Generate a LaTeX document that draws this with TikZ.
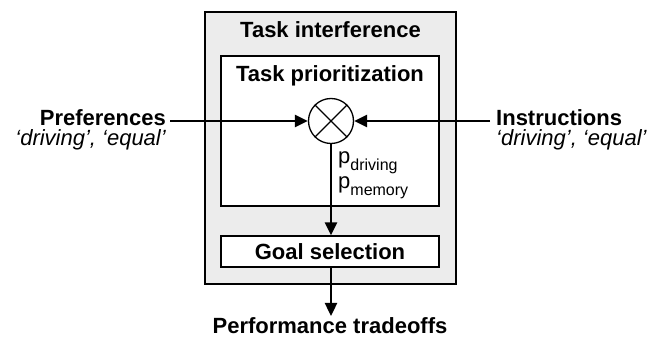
\documentclass[tikz,border=0pt]{standalone}
\usepackage{fontspec}
\setmainfont{Liberation Sans}
\usetikzlibrary{arrows.meta}
\definecolor{boxgray}{RGB}{236,236,236}
\tikzset{
  box/.style={draw=black, line width=1.3pt, minimum width=218pt, inner sep=0pt},
  arr/.style={line width=2.4pt, -{Triangle[length=13pt,width=12pt]}},
  lbl/.style={inner sep=0pt, anchor=base, font=\fontsize{22}{26}\selectfont\bfseries},
  sub/.style={inner sep=0pt, anchor=base west, font=\fontsize{22}{26}\selectfont\itshape},
}
\begin{document}
\begin{tikzpicture}[x=1pt,y=-1pt]
\useasboundingbox (0,0) rectangle (649,339);
\node[draw=black, line width=1.3pt, fill=boxgray, minimum width=251pt, minimum height=272pt, inner sep=0pt] (outer) at (330.5,148) {};
\node[box, fill=white, minimum height=150pt] (prio) at (330,131) {};
\node[box, fill=white, minimum height=31pt] (goal) at (330,251.5) {};
\node[lbl] (ti) at (330.5,38) {Task interference};
\node[lbl] (tp) at (330,82) {Task prioritization};
\node[lbl] (gs) at (330,260) {Goal selection};
\node[lbl] (pt) at (330,334) {Performance tradeoffs};
\node[draw=black, line width=1.3pt, circle, minimum size=45pt, inner sep=0pt, fill=white] (circ) at (331,121) {};
\draw[line width=1.3pt] (circ.north east) -- (circ.south west) (circ.north west) -- (circ.south east);
\node[lbl, anchor=base east] (pref) at (166,126) {Preferences};
\node[inner sep=0pt, anchor=base east, font=\fontsize{22}{26}\selectfont\itshape] (prefs) at (166,146) {‘driving’, ‘equal’};
\node[lbl, anchor=base west] (instr) at (496,126) {Instructions};
\node[sub] (instrs) at (496,146) {‘driving’, ‘equal’};
\node[inner sep=0pt, anchor=base west, font=\fontsize{22}{26}\selectfont] (pd) at (338,164) {p\raisebox{-7pt}{\fontsize{16}{18}\selectfont driving}};
\node[inner sep=0pt, anchor=base west, font=\fontsize{22}{26}\selectfont] (pm) at (338,189) {p\raisebox{-7pt}{\fontsize{16}{18}\selectfont memory}};
\coordinate (lstart) at (170,121);
\coordinate (rstart) at (490,121);
\coordinate (pend) at (331,316);
\draw[arr] (lstart) -- (circ.west);
\draw[arr] (rstart) -- (circ.east);
\draw[arr] (circ.south) -- (circ.south |- goal.north);
\draw[arr] (circ.south |- goal.south) -- (pend);
\end{tikzpicture}
\end{document}
